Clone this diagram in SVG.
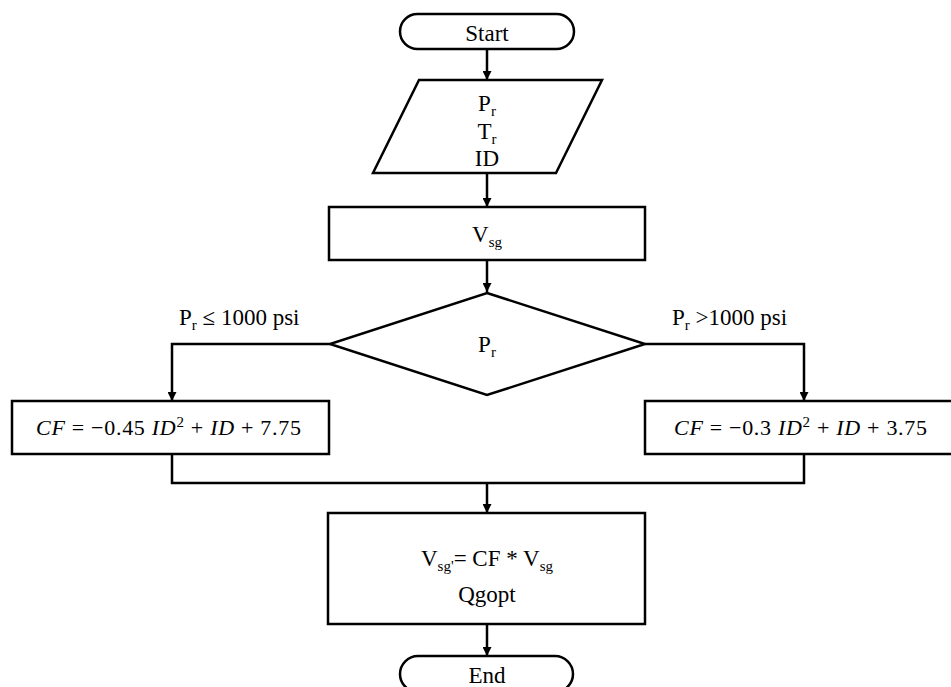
<svg xmlns="http://www.w3.org/2000/svg" width="951" height="687" viewBox="0 0 951 687">
<style>
.s{fill:#fff;stroke:#000;stroke-width:2.5}
.c{fill:none;stroke:#000;stroke-width:2.5}
.t{font-family:"Liberation Serif","Times New Roman",serif;font-size:23px;fill:#000}
.m{text-anchor:middle}
.sub{font-size:15px}
.eq{font-family:"Liberation Serif","Times New Roman",serif;font-size:22px;fill:#000}
.i{font-style:italic}
</style>
<defs>
<marker id="ah" viewBox="0 0 10 10" refX="10" refY="5" markerWidth="9" markerHeight="9" markerUnits="userSpaceOnUse" orient="auto">
<path d="M0,0 L10,5 L0,10 z" fill="#000"/>
</marker>
</defs>
<g id="connectors">
<line class="c" x1="487" y1="49" x2="487" y2="80" marker-end="url(#ah)"/>
<line class="c" x1="487" y1="173" x2="487" y2="207" marker-end="url(#ah)"/>
<line class="c" x1="487" y1="260" x2="487" y2="292" marker-end="url(#ah)"/>
<polyline class="c" points="330,344 172,344 172,401" marker-end="url(#ah)"/>
<polyline class="c" points="645,344 804,344 804,401" marker-end="url(#ah)"/>
<polyline class="c" points="172,454 172,483 804,483 804,454"/>
<line class="c" x1="487" y1="483" x2="487" y2="513" marker-end="url(#ah)"/>
<line class="c" x1="487" y1="624" x2="487" y2="656" marker-end="url(#ah)"/>
<text class="t" x="179" y="325">P<tspan class="sub" dy="5">r</tspan><tspan dy="-5"> ≤ 1000 psi</tspan></text>
<text class="t" x="672" y="325">P<tspan class="sub" dy="5">r</tspan><tspan dy="-5"> &gt;1000 psi</tspan></text>
</g>
<g id="start">
<rect class="s" x="400" y="14" width="174" height="35" rx="17.5"/>
<text class="t m" x="487" y="41">Start</text>
</g>
<g id="input">
<polygon class="s" points="419,80 602,80 556,173 373,173"/>
<text class="t m" x="487" y="111">P<tspan class="sub" dy="5">r</tspan></text>
<text class="t m" x="487" y="139">T<tspan class="sub" dy="5">r</tspan></text>
<text class="t m" x="487" y="166">ID</text>
</g>
<g id="vsg">
<rect class="s" x="329" y="207" width="316" height="53"/>
<text class="t m" x="487" y="242">V<tspan class="sub" dy="5">sg</tspan></text>
</g>
<g id="decision">
<polygon class="s" points="487,293 645,344 487,395 330,344"/>
<text class="t m" x="487" y="352">P<tspan class="sub" dy="5">r</tspan></text>
</g>
<g id="cf-low">
<rect class="s" x="12" y="401" width="317" height="53"/>
<text class="eq" x="36" y="435" textLength="265" lengthAdjust="spacing"><tspan class="i">CF</tspan> =  −0.45 <tspan class="i">ID</tspan><tspan font-size="15" dy="-8">2</tspan><tspan dy="8"> + </tspan><tspan class="i">ID</tspan> + 7.75</text>
</g>
<g id="cf-high">
<rect class="s" x="645" y="401" width="320" height="53"/>
<text class="eq" x="674" y="435" textLength="253" lengthAdjust="spacing"><tspan class="i">CF</tspan> =  −0.3 <tspan class="i">ID</tspan><tspan font-size="15" dy="-8">2</tspan><tspan dy="8"> + </tspan><tspan class="i">ID</tspan> + 3.75</text>
</g>
<g id="result">
<rect class="s" x="328" y="513" width="317" height="111"/>
<text class="t m" x="487" y="566">V<tspan class="sub" dy="5">sg'</tspan><tspan dy="-5">= CF * V</tspan><tspan class="sub" dy="5">sg</tspan></text>
<text class="t m" x="487" y="602">Qgopt</text>
</g>
<g id="end">
<rect class="s" x="400" y="656" width="173" height="36" rx="18"/>
<text class="t m" x="487" y="683">End</text>
</g>
</svg>
